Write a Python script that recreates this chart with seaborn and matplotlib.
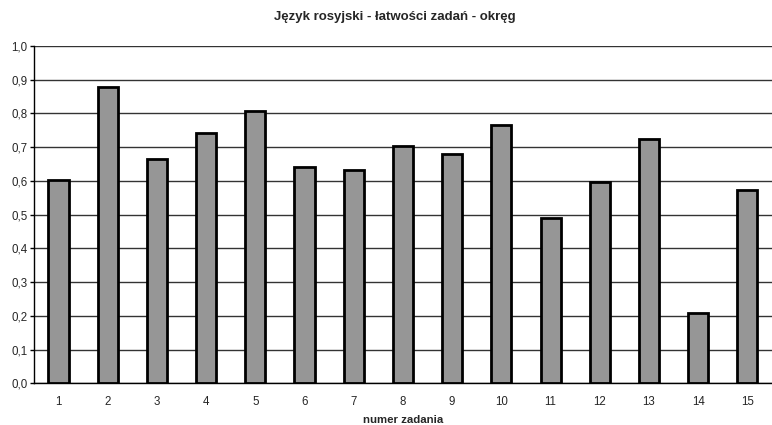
import numpy as np
import pandas as pd
import seaborn as sns
import matplotlib.pyplot as plt
from matplotlib.ticker import FuncFormatter, MultipleLocator

tasks = [str(i) for i in range(1, 16)]
ease = [0.603, 0.878, 0.665, 0.743, 0.808, 0.642, 0.633, 0.704,
        0.680, 0.765, 0.491, 0.596, 0.723, 0.208, 0.574]

df = pd.DataFrame({"zadanie": tasks, "latwosc": ease})

sns.set_style("white")
plt.rcParams['font.family'] = ['Liberation Sans', 'DejaVu Sans']

fig = plt.figure(figsize=(7.72, 4.25), dpi=100)
ax = fig.add_axes([0.044, 0.098, 0.956, 0.794])

sns.barplot(data=df, x="zadanie", y="latwosc", color="#969696",
            edgecolor="black", linewidth=2, width=0.41, saturation=1, ax=ax, zorder=3)

ax.set_ylim(0, 1.0)
ax.set_xlim(-0.5, 14.5)
ax.yaxis.set_major_locator(MultipleLocator(0.1))
ax.yaxis.set_major_formatter(FuncFormatter(lambda v, p: f"{v:.1f}".replace(".", ",")))
ax.grid(axis="y", color="#333333", linewidth=1, zorder=0)
ax.set_axisbelow(True)

for side in ["top", "right"]:
    ax.spines[side].set_visible(False)
for side in ["left", "bottom"]:
    ax.spines[side].set_color("black")
    ax.spines[side].set_linewidth(1)

# ticks between categories on x axis
ax.set_xticks(np.arange(-0.5, 15, 1), minor=True)
ax.tick_params(axis="x", which="minor", length=4, width=1, color="black", direction="out")
ax.tick_params(axis="x", which="major", length=0, labelsize=8.3, pad=9)
ax.tick_params(axis="y", length=3, width=1, color="black", direction="out", labelsize=8.3, pad=1.5, left=True)

ax.set_ylabel("")
ax.set_xlabel("numer zadania", fontsize=8.2, fontweight="bold", labelpad=5)
fig.suptitle("Język rosyjski - łatwości zadań - okręg", fontsize=9.5, fontweight="bold",
             x=0.512, y=0.975)

fig.savefig("out.png", dpi=100)
